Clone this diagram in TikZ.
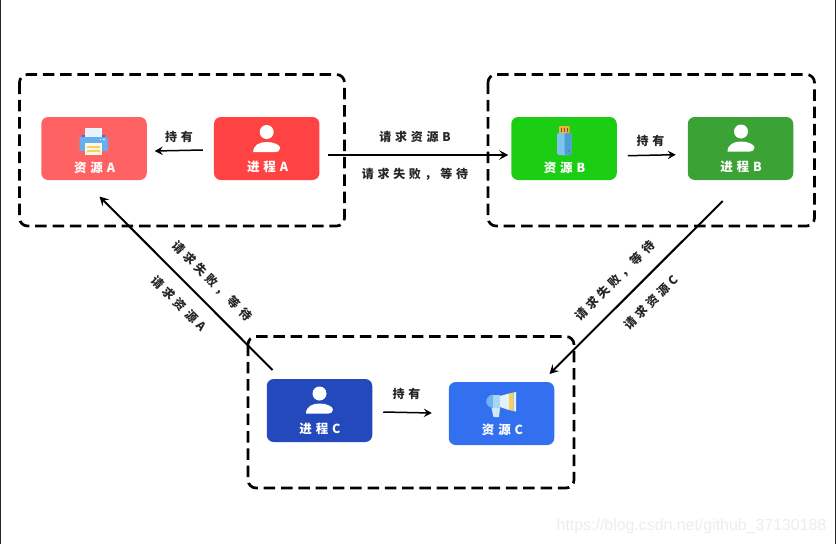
\documentclass[tikz,border=0pt]{standalone}
\usepackage{fontspec}
\usetikzlibrary{arrows.meta}
\newfontfamily\cjk[LetterSpace=31]{Noto Sans CJK SC}
\newfontfamily\wm{Liberation Sans}
\definecolor{resA}{HTML}{FF6262}
\definecolor{procA}{HTML}{FF4343}
\definecolor{resB}{HTML}{1BCE14}
\definecolor{procB}{HTML}{3BA336}
\definecolor{procC}{HTML}{2449BC}
\definecolor{resC}{HTML}{3270EF}
\definecolor{prDark}{HTML}{3E6FD8}
\definecolor{prPaper}{HTML}{E8F4FB}
\definecolor{prBody}{HTML}{66ADF2}
\definecolor{prSheet}{HTML}{FDF6E3}
\definecolor{iconYel}{HTML}{F7D060}
\definecolor{usbCap}{HTML}{F2B035}
\definecolor{usbPin}{HTML}{6B5A3A}
\definecolor{usbL}{HTML}{7DC5EE}
\definecolor{usbR}{HTML}{4A9FD3}
\definecolor{usbDot}{HTML}{8A6FA0}
\definecolor{mgHandle}{HTML}{CFE8F8}
\definecolor{mgBack}{HTML}{6DB3EE}
\definecolor{mgMid}{HTML}{A9D5F5}
\definecolor{mgHorn}{HTML}{E3F3FB}
\tikzset{
  x=1pt,y=-1pt,
  grp/.style={draw=black,line width=2.7pt,dash pattern=on 11.5pt off 5.8pt,rounded corners=8pt},
  card/.style={rectangle,rounded corners=7pt,minimum width=105.5pt,minimum height=63pt,inner sep=0pt,outer sep=0pt},
  cardtext/.style={text=white,font=\cjk\bfseries\fontsize{12.5}{12.5}\selectfont,inner sep=0pt},
  lbl/.style={text=black!85,font=\cjk\bfseries\fontsize{12}{12}\selectfont,inner sep=0pt},
  arr/.style={draw=black,line width=1.5pt,-{Stealth[length=8pt,width=8.5pt,inset=3pt]}},
  bigarr/.style={arr,line width=2pt,-{Stealth[length=9pt,width=9.5pt,inset=3.5pt]}},
}
\newcommand{\personicon}[2]{%
  \fill[white] (#1,#2-1) circle (7);
  \fill[white] (#1-13.5,#2+19) .. controls (#1-13.5,#2+12) and (#1-7,#2+9) .. (#1,#2+9)
     .. controls (#1+7,#2+9) and (#1+13.5,#2+12) .. (#1+13.5,#2+15)
     .. controls (#1+13.5,#2+18) and (#1+11,#2+19) .. (#1+9,#2+19) -- cycle;
}
\begin{document}
\begin{tikzpicture}
\useasboundingbox (0,0) rectangle (836,544);
\fill[white] (0,0) rectangle (836,544);
\draw[black!85,line width=1.2pt] (0.5,0) -- (0.5,544);
\draw[black!85,line width=1.2pt] (835.4,0) -- (835.4,544);

% groups
\draw[grp] (19.5,74.5) rectangle (344.5,226);
\draw[grp] (488,74.5) rectangle (814.5,226);
\draw[grp] (248,336.5) rectangle (574,488);

% cards
\node[card,fill=resA]  (ra) at (94,148.5) {};
\node[card,fill=procA] (pa) at (266.7,148.5) {};
\node[card,fill=resB]  (rb) at (564,148.5) {};
\node[card,fill=procB] (pb) at (740.5,148.5) {};
\node[card,fill=procC] (pc) at (319.5,410.5) {};
\node[card,fill=resC]  (rc) at (501.5,413.5) {};

% card texts
\node[cardtext] (tra) at (94.5,168) {资源A};
\node[cardtext] (tpa) at (267.5,167) {进程A};
\node[cardtext] (trb) at (564.5,168) {资源B};
\node[cardtext] (tpb) at (741,167) {进程B};
\node[cardtext] (tpc) at (320,429) {进程C};
\node[cardtext] (trc) at (502.5,429.5) {资源C};

% person icons
\personicon{266.7}{133}
\personicon{741}{132.5}
\personicon{319.5}{394.5}

% printer icon
\fill[prDark] (82,134.5) rectangle (105,139);
\fill[prPaper] (85,128) rectangle (102,137);
\fill[rounded corners=2pt,prBody] (79.5,137) rectangle (108,151);
\fill[white] (99.5,139) rectangle (101,140.2);
\fill[white] (103,139) rectangle (104.5,140.2);
\fill[prSheet] (85,143) rectangle (102,155);
\fill[iconYel] (87,146) rectangle (100,147.5);
\fill[iconYel] (87,150) rectangle (100,152);

% USB icon
\fill[rounded corners=1pt,usbCap] (559.2,126) rectangle (569.5,134);
\fill[usbPin] (561.2,128) rectangle (562.2,132);
\fill[usbPin] (564,128) rectangle (565,132);
\fill[usbPin] (566.8,128) rectangle (567.8,132);
\fill[rounded corners=1.5pt,usbL] (557,133) rectangle (571.7,155);
\fill[rounded corners=1.5pt,usbR] (564.5,133) rectangle (571.7,155);
\fill[usbDot] (568.2,149.5) rectangle (570,151.5);

% megaphone icon
\fill[mgHandle] (491.5,408) -- (500,408) -- (499,417) -- (493.5,417) -- cycle;
\fill[mgBack] (493,394.5) .. controls (484,396) and (484,407) .. (493,408) -- cycle;
\fill[mgMid] (493,394.5) rectangle (500,408);
\fill[mgHorn] (500,396) -- (509,393.5) -- (509,410) -- (500,407) -- cycle;
\fill[iconYel] (509,393.5) -- (513.5,392.5) -- (513.5,411) -- (509,410) -- cycle;
\fill[mgHorn] (513.5,392.5) -- (516,392) -- (516,411.5) -- (513.5,411) -- cycle;

% connectors
\draw[arr] ([xshift=-11pt,yshift=-1.5pt]pa.west) -- ([xshift=8pt,yshift=-2.5pt]ra.east);
\draw[bigarr] ([xshift=9pt,yshift=-6.5pt]pa.east) -- ([xshift=-3pt,yshift=-6.5pt]rb.west);
\draw[arr] ([xshift=11pt,yshift=-7.2pt]rb.east) -- ([xshift=-12pt,yshift=-6.2pt]pb.west);
\draw[bigarr] ([xshift=-17.8pt,yshift=-21pt]pb.south) -- ([xshift=48pt,yshift=8pt]rc.north);
\draw[bigarr] ([xshift=-47pt,yshift=9pt]pc.north) -- ([xshift=5.5pt,yshift=-16.5pt]ra.south);
\draw[arr] ([xshift=11pt,yshift=-1.5pt]pc.east) -- ([xshift=-17pt,yshift=0.5pt]rc.west);

% labels
\node[lbl] (h1) at (179,137) {持有};
\node[lbl] (h2) at (650.5,140.5) {持有};
\node[lbl] (h3) at (406.5,393.5) {持有};
\node[lbl] (l1) at (415,137) {请求资源B};
\node[lbl] (l2) at (415,174) {请求失败，等待};
\node[lbl,rotate=-45] (l3) at (212,281) {请求失败，等待};
\node[lbl,rotate=-45] (l4) at (179,303.5) {请求资源A};
\node[lbl,rotate=45] (l5) at (615,281) {请求失败，等待};
\node[lbl,rotate=45] (l6) at (651,302.5) {请求资源C};

% watermark
\node[text=black!7,font=\wm\fontsize{15.9}{15.9}\selectfont,inner sep=0pt] (wm) at (691.5,526) {https://blog.csdn.net/github\_37130188};
\end{tikzpicture}
\end{document}
